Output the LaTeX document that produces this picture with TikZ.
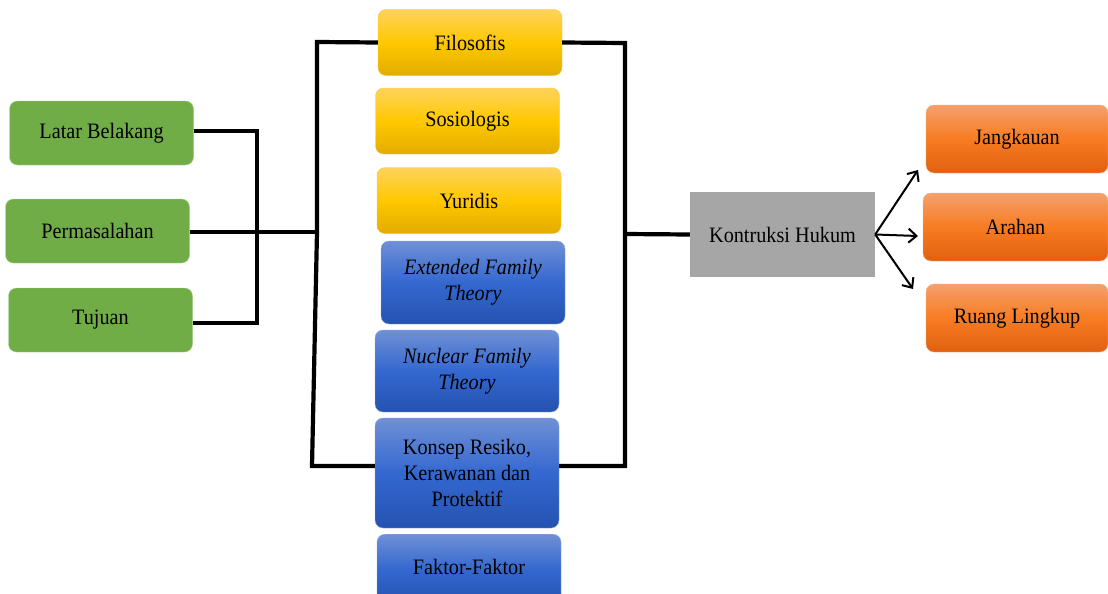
\documentclass[tikz,border=0pt]{standalone}
\usepackage{fontspec}
\setmainfont{Liberation Serif}[FakeStretch=0.92]
\usetikzlibrary{positioning,arrows.meta}

\definecolor{hijau}{HTML}{70AD47}
\definecolor{abu}{HTML}{A6A6A6}
\definecolor{kuningA}{HTML}{FFD35C}
\definecolor{kuningB}{HTML}{FFC800}
\definecolor{kuningC}{HTML}{E2AC00}
\definecolor{kuningG}{HTML}{F8C64A}
\definecolor{biruA}{HTML}{6F90D6}
\definecolor{biruB}{HTML}{3468D0}
\definecolor{biruC}{HTML}{2452B0}
\definecolor{biruG}{HTML}{8FAADC}
\definecolor{oranyeA}{HTML}{F5A06C}
\definecolor{oranyeB}{HTML}{F87C22}
\definecolor{oranyeC}{HTML}{E06010}
\definecolor{oranyeG}{HTML}{F4B183}

\tikzset{
  kotak/.style={rounded corners=8pt, minimum width=184pt, align=center,
    font=\rmfamily\fontsize{22}{26}\selectfont, inner sep=2pt},
  hijaubox/.style={kotak, fill=hijau, draw=hijau!60, minimum height=64pt},
  kuningbox/.style={kotak, draw=kuningG, top color=kuningA, bottom color=kuningC,
    middle color=kuningB, minimum height=66pt},
  birubox/.style={kotak, draw=biruG, top color=biruA, bottom color=biruC,
    middle color=biruB},
  oranyebox/.style={kotak, draw=oranyeG, top color=oranyeA, bottom color=oranyeC,
    middle color=oranyeB, minimum width=182pt, minimum height=68pt},
  garis/.style={line width=4.2pt},
  panah/.style={-{Straight Barb[length=8pt,width=14pt,line width=2pt]}, line width=2pt}
}

\begin{document}
\begin{tikzpicture}[x=1pt, y=-1pt]

    \useasboundingbox (0,0) rectangle (1108,594);

    % Left boxes
    \node[hijaubox] (latar) at (101.5,133) {Latar Belakang};
    \node[hijaubox] (masalah) at (97.5,231) {Permasalahan};
    \node[hijaubox] (tujuan) at (100.5,320) {Tujuan};

    % Middle column
    \node[kuningbox] (filosofis) at (470,42.5) {Filosofis};
    \node[kuningbox] (sosiologis) at (467.5,121) {Sosiologis};
    \node[kuningbox] (yuridis) at (469,200.5) {Yuridis};
    \node[birubox, minimum height=83pt] (extended) at (473,282.5) {\itshape Extended Family\\\itshape Theory};
    \node[birubox, minimum height=82pt] (nuclear) at (467,371) {\itshape Nuclear Family\\\itshape Theory};
    \node[birubox, minimum height=110pt] (konsep) at (467,473) {Konsep Resiko,\\Kerawanan dan\\Protektif};
    \node[birubox, minimum height=70pt, anchor=north] (faktor) at (469,534) {};
    \node[font=\rmfamily\fontsize{22}{26}\selectfont] (faktorteks) at (469,567) {Faktor-Faktor};

    % Right side
    \node[kotak, fill=abu, rounded corners=0pt, minimum width=185pt, minimum height=85pt] (hukum) at (782.5,234.5) {Kontruksi Hukum};
    \node[oranyebox] (jangkauan) at (1017,139) {Jangkauan};
    \node[oranyebox, minimum width=185pt] (arahan) at (1015.5,227) {Arahan};
    \node[oranyebox] (ruang) at (1017,318) {Ruang Lingkup};

    % Junction points
    \coordinate (jm) at (257,232);
    \coordinate (lt) at (317,42);
    \coordinate (lm) at (317,232);
    \coordinate (lb) at (312,466);
    \coordinate (rt) at (625,43);
    \coordinate (rm) at (625,234);
    \coordinate (rb) at (625,466);
    \coordinate (pa) at (918,170);
    \coordinate (pb) at (918,236);
    \coordinate (pc) at (913,289);

    % Connectors
    \draw[garis] (latar.east |- 0,131) -| (jm) |- (tujuan.east |- 0,323);
    \draw[garis] (masalah.east |- lm) -- (lm);
    \draw[garis] (filosofis.west) -- (lt) -- (lm) -- (lb) -- (lb -| konsep.west);
    \draw[garis] (filosofis.east) -- (rt) -- (rb) -- (rb -| konsep.east);
    \draw[garis] (rm) -- (hukum.west);

    % Arrows
    \draw[panah] (hukum.east) -- (pa);
    \draw[panah] (hukum.east) -- (pb);
    \draw[panah] (hukum.east) -- (pc);

\end{tikzpicture}
\end{document}
